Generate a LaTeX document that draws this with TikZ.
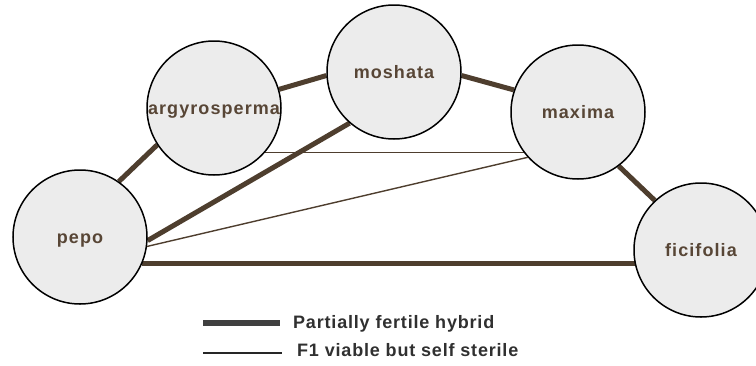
\documentclass[tikz,border=0pt]{standalone}
\usepackage{fontspec}
\setmainfont{Liberation Sans}
\newfontfamily\labfont[LetterSpace=6]{Liberation Sans}
\newfontfamily\legfont[LetterSpace=4.5]{Liberation Sans}
\usetikzlibrary{backgrounds}
\definecolor{edgebrown}{RGB}{78,62,46}
\definecolor{labbrown}{RGB}{88,70,54}
\definecolor{circfill}{RGB}{236,236,236}
\definecolor{leggray}{RGB}{64,64,64}
\definecolor{legtext}{RGB}{48,48,48}
\begin{document}
\begin{tikzpicture}[x=1pt,y=-1pt,
  species/.style={circle, draw=black, line width=1.5pt, fill=circfill,
    minimum size=134pt, inner sep=0pt, text height=12pt, text depth=0pt,
    font=\labfont\bfseries\fontsize{18}{21}\selectfont, text=labbrown},
  fertile/.style={draw=edgebrown, line width=5pt},
  sterile/.style={draw=edgebrown, line width=1.4pt},
  legtxt/.style={anchor=base west, inner sep=0pt,
    font=\legfont\bfseries\fontsize{18}{21}\selectfont, text=legtext}]
\useasboundingbox (0,0) rectangle (756,365);
\clip (0,0) rectangle (756,365);

\node[species] (pepo) at (80,237) {pepo};
\node[species] (argy) at (214,108) {argyrosperma};
\node[species] (mosh) at (394,72) {moshata};
\node[species] (maxi) at (578,112) {maxima};
\node[species] (fici) at (701,250) {ficifolia};

\begin{scope}[on background layer]
\draw[fertile] (pepo.55) -- (argy.213);
\draw[fertile] (argy.16) -- (mosh.183);
\draw[fertile] (mosh.-3) -- (maxi.161);
\draw[fertile] (maxi.-53) -- (fici.133);
\draw[fertile] (pepo.-3) -- (mosh.229);
\draw[fertile] (pepo.-23) -- (pepo.-23 -| fici.center);
\draw[sterile] (argy.-41) -- (argy.-41 -| maxi.center);
\draw[sterile] (pepo.-8) -- (maxi.222);
\end{scope}

\coordinate (t1) at (203,323);
\coordinate (t2) at (280,323);
\draw[line width=6pt, leggray] (t1) -- (t2);
\node[legtxt] (lt1) at (293,328) {Partially fertile hybrid};
\coordinate (s1) at (203,353);
\coordinate (s2) at (282,353);
\draw[line width=1.2pt, black!85] (s1) -- (s2);
\node[legtxt] (lt2) at (297,356) {F1 viable but self sterile};
\end{tikzpicture}
\end{document}
